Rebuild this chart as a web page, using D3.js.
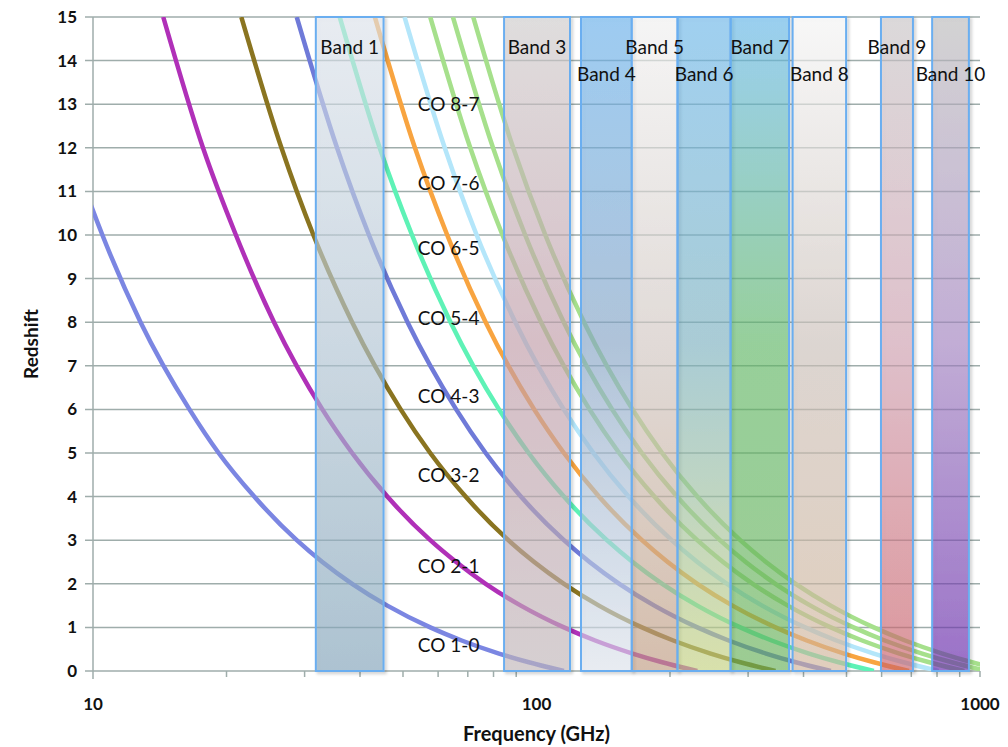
<!DOCTYPE html>
<html>
<head>
<meta charset="utf-8">
<script src="https://cdn.jsdelivr.net/npm/d3@7"></script>
<style>
  body { margin: 0; background: #fff; }
  text { font-family: Lato, "Open Sans", sans-serif; fill: #111; }
</style>
</head>
<body>
<svg id="chart" width="1008" height="747"></svg>
<script>
const zLevels = [15, 12, 10, 8, 6, 5, 4, 3, 2.5, 2, 1.5, 1, 0.7, 0.4, 0.2, 0];

// frequency (GHz) of each CO line at those redshifts
const co10 = [7.2, 8.9, 10.5, 12.8, 16.5, 19.2, 23.1, 28.8, 32.9, 38.4, 46.1, 57.6, 67.8, 82.3, 96.1, 115.3];
const co21 = [14.4, 17.7, 21.0, 25.6, 32.9, 38.4, 46.1, 57.6, 65.9, 76.8, 92.2, 115.3, 135.6, 164.7, 192.1, 230.5];
const co32 = [21.6, 26.6, 31.4, 38.4, 49.4, 57.6, 69.2, 86.4, 98.8, 115.3, 138.3, 172.9, 203.4, 247.0, 288.2, 345.8];
const co43 = [28.8, 35.5, 41.9, 51.2, 65.9, 76.8, 92.2, 115.3, 131.7, 153.7, 184.4, 230.5, 271.2, 329.3, 384.2, 461.0];
const co54 = [36.0, 44.3, 52.4, 64.0, 82.3, 96.0, 115.3, 144.1, 164.7, 192.1, 230.5, 288.1, 339.0, 411.6, 480.2, 576.3];
const co65 = [43.2, 53.2, 62.9, 76.8, 98.8, 115.3, 138.3, 172.9, 197.6, 230.5, 276.6, 345.8, 406.8, 493.9, 576.2, 691.5];
const co76 = [50.4, 62.1, 73.3, 89.6, 115.2, 134.4, 161.3, 201.7, 230.5, 268.9, 322.7, 403.4, 474.5, 576.2, 672.3, 806.7];
const co87 = [57.6, 70.9, 83.8, 102.4, 131.7, 153.6, 184.4, 230.4, 263.4, 307.3, 368.7, 460.9, 542.2, 658.4, 768.2, 921.8];
const co98 = [64.8, 79.8, 94.3, 115.2, 148.1, 172.8, 207.4, 259.2, 296.3, 345.6, 414.8, 518.5, 609.9, 740.6, 864.1, 1036.9];
const co109 = [72.0, 88.6, 104.7, 128.0, 164.6, 192.0, 230.4, 288.0, 329.1, 384.0, 460.8, 576.0, 677.6, 822.8, 959.9, 1151.9];

const lineFreqs = [co10, co21, co32, co43, co54, co65, co76, co87, co98, co109];
const lineColors = ["#7b86e2", "#b030b8", "#8a7420", "#6f7ad8", "#5ef2b6", "#f8a440",
                    "#b4e6fa", "#a6e08c", "#a6e08c", "#a6e08c"];

// text labels for the lines, all sitting at one frequency
const lineLabels = ["CO 1-0", "CO 2-1", "CO 3-2", "CO 4-3", "CO 5-4", "CO 6-5", "CO 7-6", "CO 8-7"];
const lineLabelZ = [0.6, 2.4, 4.5, 6.3, 8.1, 9.7, 11.2, 13.0];
const lineLabelFreq = 54;

// ALMA bands (GHz)
const bandNames = ["Band 1", "Band 3", "Band 4", "Band 5", "Band 6", "Band 7", "Band 8", "Band 9", "Band 10"];
const bandLow  = [31.8, 84.5, 126, 164, 208, 274, 378, 598, 780];
const bandHigh = [45.2, 119, 164, 208, 274, 371, 499, 706, 944];
const bandRow  = [0, 0, 1, 0, 1, 0, 1, 0, 1];
// colours seen top / middle / bottom
const bandTop = ["#eef2f7", "#e6e4e4", "#a6d3f7", "#fbfbfb", "#a9d7f6", "#a4d6f6", "#fdfdfd", "#e2e0e1", "#dadada"];
const bandMid = ["#d3dfe8", "#ddc6ce", "#b8cbe0", "#e7e1de", "#b3d3dc", "#a0d6a4", "#e3dcd8", "#e5c8d2", "#c9b6dc"];
const bandBot = ["#b6cad8", "#ddd6d8", "#eef2f7", "#dcc6b6", "#dfe7b4", "#a6d39c", "#e7d5c5", "#e3a0a6", "#a47ccf"];

const xTicks = [10, 100, 1000];
const yTicks = d3.range(0, 16);

const margin = { top: 17, right: 28, bottom: 76, left: 93 };
const width = 1008, height = 747;
const svg = d3.select("#chart");

const x = d3.scaleLog().domain([10, 1000]).range([margin.left, width - margin.right]);
const y = d3.scaleLinear().domain([0, 15]).range([height - margin.bottom, margin.top]);

const bandAlpha = 0.6;
// base colour which, drawn at bandAlpha over white, gives the seen colour
function under(hex) {
  const c = d3.rgb(hex);
  const f = v => Math.max(0, Math.min(255, (v - (1 - bandAlpha) * 255) / bandAlpha));
  return d3.rgb(f(c.r), f(c.g), f(c.b)).formatHex();
}

const defs = svg.append("defs");
defs.append("clipPath").attr("id", "plot")
  .append("rect")
  .attr("x", x(10)).attr("y", y(15))
  .attr("width", x(1000) - x(10)).attr("height", y(0) - y(15));

const shadow = defs.append("filter").attr("id", "shadow")
  .attr("x", "-10%").attr("y", "-5%").attr("width", "130%").attr("height", "115%");
shadow.append("feDropShadow")
  .attr("dx", 2).attr("dy", 2).attr("stdDeviation", 1.5)
  .attr("flood-color", "#000").attr("flood-opacity", 0.2);

bandNames.forEach((b, i) => {
  const g = defs.append("linearGradient").attr("id", "band" + i)
    .attr("x1", 0).attr("y1", 0).attr("x2", 0).attr("y2", 1);
  g.append("stop").attr("offset", "0%").attr("stop-color", under(bandTop[i]));
  g.append("stop").attr("offset", "50%").attr("stop-color", under(bandMid[i]));
  g.append("stop").attr("offset", "100%").attr("stop-color", under(bandBot[i]));
});

// horizontal grid
svg.append("g")
  .selectAll("line")
  .data(yTicks)
  .join("line")
  .attr("x1", x(10) - 8).attr("x2", x(1000))
  .attr("y1", d => y(d)).attr("y2", d => y(d))
  .attr("stroke", "#9fadab").attr("stroke-width", 1.5);

// axis lines
svg.append("line")
  .attr("x1", x(10)).attr("x2", x(10))
  .attr("y1", y(15)).attr("y2", y(0) + 8)
  .attr("stroke", "#9fadab").attr("stroke-width", 1.5);

const minor = [];
[10, 100].forEach(dec => d3.range(2, 10).forEach(m => minor.push(dec * m)));
minor.push(1000);
svg.append("g")
  .selectAll("line")
  .data(minor)
  .join("line")
  .attr("x1", d => x(d)).attr("x2", d => x(d))
  .attr("y1", y(0)).attr("y2", y(0) + 6)
  .attr("stroke", "#9fadab").attr("stroke-width", 1.5);

// CO lines
const line = d3.line()
  .x(d => x(d[0]))
  .y(d => y(d[1]))
  .curve(d3.curveMonotoneX);

svg.append("g")
  .attr("clip-path", "url(#plot)")
  .selectAll("path")
  .data(lineFreqs.map((fs, i) => ({ pts: fs.map((f, j) => [f, zLevels[j]]).reverse(), color: lineColors[i] })))
  .join("path")
  .attr("d", d => line(d.pts))
  .attr("fill", "none")
  .attr("stroke", d => d.color)
  .attr("stroke-width", 4.5);

// bands over the lines
svg.append("g")
  .selectAll("rect")
  .data(bandNames)
  .join("rect")
  .attr("x", (d, i) => x(bandLow[i]))
  .attr("y", y(15))
  .attr("width", (d, i) => x(bandHigh[i]) - x(bandLow[i]))
  .attr("height", y(0) - y(15))
  .attr("fill", (d, i) => `url(#band${i})`)
  .attr("fill-opacity", bandAlpha)
  .attr("stroke", "#6aaef0")
  .attr("stroke-width", 2)
  .attr("filter", "url(#shadow)");

// band labels
svg.append("g")
  .selectAll("text")
  .data(bandNames)
  .join("text")
  .attr("x", (d, i) => x(Math.sqrt(bandLow[i] * bandHigh[i])))
  .attr("y", (d, i) => bandRow[i] ? 81 : 54)
  .attr("text-anchor", "middle")
  .attr("font-size", 19)
  .text(d => d);

// line labels
svg.append("g")
  .selectAll("text")
  .data(lineLabels)
  .join("text")
  .attr("x", x(lineLabelFreq))
  .attr("y", (d, i) => y(lineLabelZ[i]) + 7)
  .attr("font-size", 19)
  .text(d => d);

// tick labels
svg.append("g")
  .selectAll("text")
  .data(yTicks)
  .join("text")
  .attr("x", 77)
  .attr("y", d => y(d) + 6)
  .attr("text-anchor", "end")
  .attr("font-size", 17)
  .attr("font-weight", "bold")
  .text(d => d);

svg.append("g")
  .selectAll("text")
  .data(xTicks)
  .join("text")
  .attr("x", d => x(d))
  .attr("y", 710)
  .attr("text-anchor", "middle")
  .attr("font-size", 17)
  .attr("font-weight", "bold")
  .text(d => d);

svg.append("text")
  .attr("transform", `translate(38,${(y(0) + y(15)) / 2}) rotate(-90)`)
  .attr("text-anchor", "middle")
  .attr("font-size", 19)
  .attr("font-weight", "bold")
  .text("Redshift");

svg.append("text")
  .attr("x", (x(10) + x(1000)) / 2)
  .attr("y", 741)
  .attr("text-anchor", "middle")
  .attr("font-size", 20)
  .attr("font-weight", "bold")
  .text("Frequency (GHz)");
</script>
</body>
</html>
